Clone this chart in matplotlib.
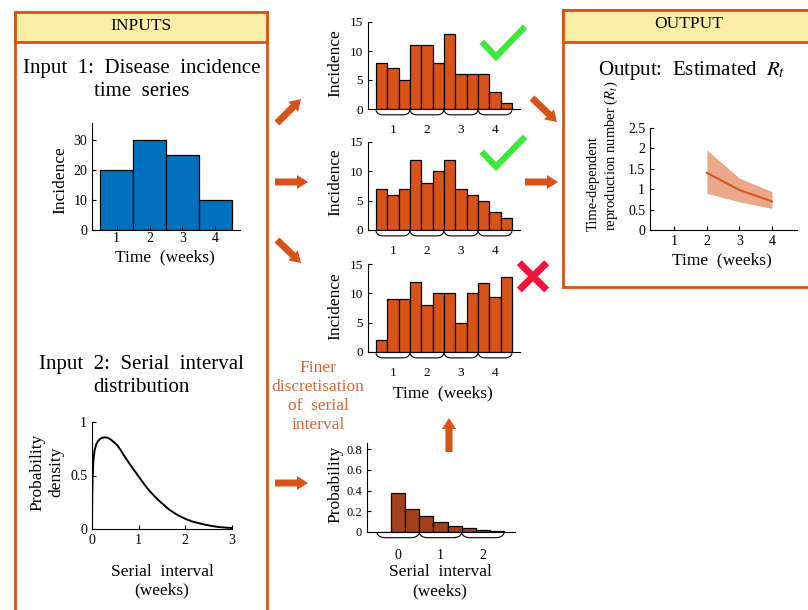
import numpy as np
import matplotlib
matplotlib.use('Agg')
import matplotlib.pyplot as plt
from matplotlib.patches import Rectangle, FancyArrow, PathPatch
from matplotlib.path import Path

plt.rcParams['font.family'] = ['Liberation Serif', 'DejaVu Serif']
plt.rcParams['mathtext.fontset'] = 'stix'

W, H = 808, 610

# ---- data ----
weeks = [1, 2, 3, 4]
weekly_incidence = [20, 30, 25, 10]
days = np.arange(1, 13)
daily_ok_1 = [8, 7, 5, 11, 11, 8, 13, 6, 6, 6, 3, 1]
daily_ok_2 = [7, 6, 7, 12, 8, 10, 12, 7, 6, 5, 3, 2]
daily_bad = [2, 9, 9, 12, 8, 10, 10, 5, 10, 11.8, 9.4, 12.8]

si_x = [0, 0.005, 0.014, 0.03, 0.057, 0.1, 0.143, 0.2, 0.27, 0.33, 0.39, 0.46,
        0.535, 0.61, 0.68, 0.75, 0.82, 0.91, 1.0, 1.1, 1.21, 1.32, 1.43, 1.54,
        1.64, 1.75, 1.86, 2.0, 2.14, 2.29, 2.43, 2.57, 2.71, 2.86, 3.0]
si_density = [0, 0.3, 0.49, 0.64, 0.74, 0.80, 0.83, 0.85, 0.857, 0.853, 0.84,
              0.815, 0.786, 0.74, 0.69, 0.645, 0.60, 0.545, 0.49, 0.43, 0.367,
              0.315, 0.267, 0.225, 0.186, 0.153, 0.124, 0.095, 0.071, 0.054,
              0.040, 0.028, 0.019, 0.013, 0.009]

si_bins = np.arange(0, 9)
si_prob = [0, 0.38, 0.22, 0.15, 0.097, 0.062, 0.039, 0.023, 0.013]
si_week_labels = ['0', '1', '2']

rt_weeks = [2, 3, 4]
rt_mean = [1.40, 0.98, 0.70]
rt_lower = [0.90, 0.69, 0.53]
rt_upper = [1.96, 1.27, 0.94]

ORANGE = '#D95319'
BLUE = '#0072BD'
BROWN = '#A2411A'
YELLOW = '#FAEDA6'

fig = plt.figure(figsize=(W / 100, H / 100), dpi=100)

# background axes in pixel coords for boxes, arrows and labels
bg = fig.add_axes([0, 0, 1, 1])
bg.set_xlim(0, W)
bg.set_ylim(H, 0)
bg.axis('off')


def px_axes(l, r, t, b):
    ax = fig.add_axes([l / W, 1 - b / H, (r - l) / W, (b - t) / H])
    ax.patch.set_alpha(0)
    ax.spines[['top', 'right']].set_visible(False)
    ax.tick_params(direction='in', length=3, width=0.8, labelsize=10)
    return ax


def braces(ax, edges, depth, off):
    # flat underbraces: rounded ends, straight bottom
    for a, b in zip(edges[:-1], edges[1:]):
        w = b - a
        top, bot = -off, -off - depth
        verts = [(a, top), (a + 0.04 * w, bot), (a + 0.2 * w, bot),
                 (b - 0.2 * w, bot),
                 (b - 0.04 * w, bot), (b, top)]
        codes = [Path.MOVETO, Path.CURVE3, Path.CURVE3, Path.LINETO,
                 Path.CURVE3, Path.CURVE3]
        ax.add_patch(PathPatch(Path(verts, codes), fill=False, lw=0.8,
                               clip_on=False))


# boxes
bg.add_patch(Rectangle((15, 12), 252, 620, facecolor='white', edgecolor=ORANGE, lw=2))
bg.add_patch(Rectangle((15, 12), 252, 30, facecolor=YELLOW, edgecolor=ORANGE, lw=2))
bg.add_patch(Rectangle((563, 10), 260, 277, facecolor='white', edgecolor=ORANGE, lw=2))
bg.add_patch(Rectangle((563, 10), 260, 32, facecolor=YELLOW, edgecolor=ORANGE, lw=2))
bg.text(141, 26, 'INPUTS', ha='center', va='center', fontsize=12.5)
bg.text(689, 24, 'OUTPUT', ha='center', va='center', fontsize=12.5)

# arrows
arrows = [((277, 123), (301, 99)), ((275, 182), (308, 182)), ((277, 240), (301, 263)),
          ((532, 98), (557, 122)), ((525, 182), (558, 182)),
          ((275, 483), (308, 483)), ((449, 452), (449, 418))]
for (x0, y0), (x1, y1) in arrows:
    bg.add_patch(FancyArrow(x0, y0, x1 - x0, y1 - y0, width=7, head_width=14,
                            head_length=11, length_includes_head=True,
                            color=ORANGE, lw=0))

# checks and cross
for dy in (0, 110):
    bg.plot([481.7, 496, 525], [41.7 + dy, 56.7 + dy, 26.7 + dy], color='#3DE83D',
            lw=4.5, solid_capstyle='butt', solid_joinstyle='miter')
bg.plot([519.3, 546.7], [262.7, 290], color='#F0143C', lw=5, solid_capstyle='butt')
bg.plot([546.7, 519.3], [262.7, 290], color='#F0143C', lw=5, solid_capstyle='butt')

# titles and labels
bg.text(142, 68, 'Input  1:  Disease  incidence', ha='center', va='center', fontsize=15)
bg.text(142, 92, 'time  series', ha='center', va='center', fontsize=15)
bg.text(141, 364, 'Input  2:  Serial  interval', ha='center', va='center', fontsize=15)
bg.text(141, 388, 'distribution', ha='center', va='center', fontsize=15)
bg.text(692, 70, 'Output:  Estimated  $R_t$', ha='center', va='center', fontsize=15)

bg.text(318, 368, 'Finer', ha='center', va='center', fontsize=12.5, color='#DA6430')
bg.text(318, 387, 'discretisation', ha='center', va='center', fontsize=12.5, color='#DA6430')
bg.text(318, 406, 'of  serial', ha='center', va='center', fontsize=12.5, color='#DA6430')
bg.text(318, 425, 'interval', ha='center', va='center', fontsize=12.5, color='#DA6430')

lab = dict(ha='center', va='center', fontsize=12.5)
bg.text(60, 180, 'Incidence', rotation=90, **lab)
bg.text(165, 257, 'Time  (weeks)', **lab)
bg.text(335, 63, 'Incidence', rotation=90, **lab)
bg.text(335, 182, 'Incidence', rotation=90, **lab)
bg.text(335, 306, 'Incidence', rotation=90, **lab)
bg.text(443, 393, 'Time  (weeks)', **lab)
bg.text(335, 484, 'Probability', rotation=90, **lab)
bg.text(440, 572, 'Serial  interval', **lab)
bg.text(440, 591, '(weeks)', **lab)
bg.text(37, 472, 'Probability', rotation=90, **lab)
bg.text(56, 472, 'density', rotation=90, **lab)
bg.text(162, 572, 'Serial  interval', **lab)
bg.text(162, 590, '(weeks)', **lab)
bg.text(593, 231, 'Time-dependent', rotation=90, ha='center', va='bottom', fontsize=10.5)
bg.text(611, 231, 'reproduction number ($R_t$)', rotation=90, ha='center', va='bottom', fontsize=10.5)
bg.text(722, 260, 'Time  (weeks)', **lab)

# input 1: weekly incidence
ax = px_axes(92, 240, 123, 230)
ax.bar(weeks, weekly_incidence, width=1, color=BLUE, edgecolor='black', lw=0.9)
ax.set_xlim(0.25, 4.75)
ax.set_ylim(0, 35.7)
ax.set_xticks(weeks)
ax.set_yticks([0, 10, 20, 30])
ax.tick_params(axis='x', pad=1.5)

# daily incidence panels
for vals, top, bottom in [(daily_ok_1, 22, 109), (daily_ok_2, 142, 230), (daily_bad, 264, 352)]:
    ax = px_axes(368, 520, top, bottom)
    ax.bar(days, vals, width=1, color=ORANGE, edgecolor='black', lw=0.9)
    ax.set_xlim(-0.2, 13.2)
    ax.set_ylim(0, 15)
    ax.set_yticks([0, 5, 10, 15])
    ax.set_xticks([2, 5, 8, 11])
    ax.set_xticklabels([str(w) for w in weeks])
    ax.tick_params(axis='x', length=0, pad=11)
    ax.tick_params(labelsize=9.5)
    braces(ax, [0.5, 3.5, 6.5, 9.5, 12.5], 0.8, 0.2)

# discretised serial interval
ax = px_axes(367, 515, 443, 532)
ax.bar(si_bins, si_prob, width=1, color=BROWN, edgecolor='black', lw=0.9)
ax.set_xlim(-1.2, 9.27)
ax.set_ylim(0, 0.86)
ax.set_yticks([0, 0.2, 0.4, 0.6, 0.8])
ax.set_yticklabels(['0', '0.2', '0.4', '0.6', '0.8'])
ax.set_xticks([1, 4, 7])
ax.set_xticklabels(si_week_labels)
ax.tick_params(axis='x', length=0, pad=12, labelsize=10)
ax.tick_params(axis='y', labelsize=9)
braces(ax, [-0.5, 2.5, 5.5, 8.5], 0.045, 0.01)

# input 2: serial interval density
ax = px_axes(92, 232, 422, 529)
ax.plot(si_x, si_density, color='black', lw=1.4)
ax.set_xlim(0, 3)
ax.set_ylim(0, 1)
ax.set_xticks([0, 1, 2, 3])
ax.set_yticks([0, 0.5, 1])
ax.set_yticklabels(['0', '0.5', '1'])

# output: R_t
ax = px_axes(650, 797, 128, 230)
ax.fill_between(rt_weeks, rt_lower, rt_upper, color=ORANGE, alpha=0.5, lw=0)
ax.plot(rt_weeks, rt_mean, color=ORANGE, lw=1.4)
ax.set_xlim(0.25, 4.77)
ax.set_ylim(0, 2.5)
ax.set_xticks(weeks)
ax.set_yticks([0, 0.5, 1, 1.5, 2, 2.5])
ax.set_yticklabels(['0', '0.5', '1', '1.5', '2', '2.5'])

fig.savefig('out.png', dpi=100)
